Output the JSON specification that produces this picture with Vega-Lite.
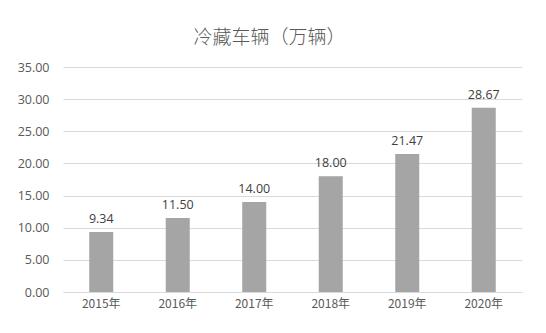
{
  "$schema": "https://vega.github.io/schema/vega-lite/v6.json",
  "width": 459,
  "height": 225,
  "autosize": {"type": "none"},
  "padding": {"left": 63, "top": 67, "right": 24, "bottom": 41},
  "background": "white",
  "title": {
    "text": "冷藏车辆（万辆）",
    "font": "Noto Sans CJK SC",
    "fontSize": 19,
    "fontWeight": 300,
    "color": "#595959",
    "anchor": "middle",
    "frame": "bounds",
    "offset": 13
  },
  "data": {
    "values": [
      {"year": "2015年", "value": 9.34},
      {"year": "2016年", "value": 11.50},
      {"year": "2017年", "value": 14.00},
      {"year": "2018年", "value": 18.00},
      {"year": "2019年", "value": 21.47},
      {"year": "2020年", "value": 28.67}
    ]
  },
  "encoding": {
    "x": {
      "field": "year",
      "type": "nominal",
      "sort": null,
      "scale": {"paddingInner": 0.686, "paddingOuter": 0.343},
      "axis": {
        "title": null,
        "labelAngle": 0,
        "labelFont": "Noto Sans CJK SC",
        "labelFontSize": 12,
        "labelColor": "#595959",
        "labelPadding": 6,
        "ticks": false,
        "domainColor": "#d9d9d9",
        "domainWidth": 1
      }
    },
    "y": {
      "field": "value",
      "type": "quantitative",
      "scale": {"domain": [0, 35]},
      "axis": {
        "title": null,
        "values": [0, 5, 10, 15, 20, 25, 30, 35],
        "format": ".2f",
        "labelFont": "Open Sans",
        "labelFontSize": 12.5,
        "labelColor": "#595959",
        "labelPadding": 14,
        "ticks": false,
        "domain": false,
        "gridColor": "#d9d9d9",
        "gridWidth": 1
      }
    }
  },
  "layer": [
    {"mark": {"type": "bar", "color": "#a5a5a5"}},
    {
      "mark": {
        "type": "text",
        "baseline": "bottom",
        "dy": -6,
        "font": "Open Sans",
        "fontSize": 12.5,
        "color": "#404040"
      },
      "encoding": {"text": {"field": "value", "type": "quantitative", "format": ".2f"}}
    }
  ],
  "config": {"view": {"stroke": null}}
}
